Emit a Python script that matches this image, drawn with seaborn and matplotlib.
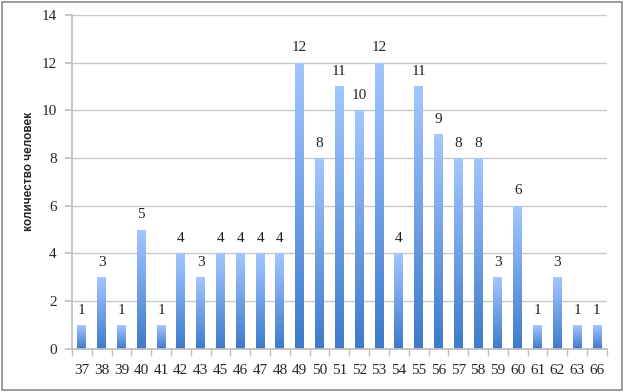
import numpy as np
import pandas as pd
import matplotlib
matplotlib.use("Agg")
import matplotlib.pyplot as plt
import seaborn as sns
from matplotlib.colors import LinearSegmentedColormap
from matplotlib.patches import Rectangle

# -----------------------------
# Data
# -----------------------------
ages = ["37", "38", "39", "40", "41", "42", "43", "45", "46", "47", "48", "49", "50",
        "51", "52", "53", "54", "55", "56", "57", "58", "59", "60", "61", "62", "63", "66"]
counts = [1, 3, 1, 5, 1, 4, 3, 4, 4, 4, 4, 12, 8, 11, 10, 12, 4, 11, 9, 8, 8, 3, 6, 1, 3, 1, 1]
y_ticks = [0, 2, 4, 6, 8, 10, 12, 14]

df = pd.DataFrame({"age": ages, "count": counts})

# -----------------------------
# Style
# -----------------------------
sns.set_theme(style="white")
plt.rcParams["font.family"] = ["Liberation Serif", "DejaVu Serif"]

fig = plt.figure(figsize=(6.25, 3.92), dpi=100)
ax = fig.add_axes([0.115, 0.110, 0.856, 0.852])

sns.barplot(data=df, x="age", y="count", color="#5b8fd8", width=0.45, ax=ax,
            order=ages, saturation=1)

# gradient fill for each bar (light top -> darker bottom)
cmap = LinearSegmentedColormap.from_list("bar", ["#3d7acb", "#a3c7ff"])
grad = np.linspace(0, 1, 256).reshape(-1, 1)
for patch in ax.patches:
    x0, y0 = patch.get_x(), patch.get_y()
    w, h = patch.get_width(), patch.get_height()
    im = ax.imshow(grad, extent=[x0, x0 + w, y0, y0 + h], origin="lower",
                   cmap=cmap, aspect="auto", zorder=2)
    im.set_clip_path(patch)
    patch.set_facecolor("none")
    patch.set_edgecolor("none")

for i, v in enumerate(counts):
    ax.text(i, v + 0.35, str(v), ha="center", va="bottom", fontsize=11, color="#222222")

ax.set_xlim(-0.5, len(ages) - 0.5)
ax.set_ylim(0, 14)
ax.set_yticks(y_ticks)
ax.yaxis.grid(True, color="#c8c8c8", linewidth=1)
ax.set_axisbelow(True)

for s in ["top", "right"]:
    ax.spines[s].set_visible(False)
ax.spines["left"].set_color("#bfbfbf")
ax.spines["bottom"].set_color("#bfbfbf")

# x ticks: labels at centers, tick marks between categories
ax.set_xticks(range(len(ages)))
ax.set_xticklabels(ages, fontsize=11)
ax.tick_params(axis="x", length=0, pad=11)
ax.set_xticks(np.arange(-0.5, len(ages), 1), minor=True)
ax.tick_params(axis="x", which="minor", length=5, color="#bfbfbf", bottom=True)
ax.tick_params(axis="y", length=5, color="#bfbfbf", left=True, labelsize=11, pad=6)

ax.set_xlabel("")
ax.set_ylabel("количество человек", fontsize=8.5, fontweight="bold",
              family=["Liberation Sans", "DejaVu Sans"], labelpad=5)
ax.yaxis.set_label_coords(-0.068, 0.53)

# outer frame
fig.patches.append(Rectangle((0.003, 0.005), 0.992, 0.99, transform=fig.transFigure,
                             fill=False, edgecolor="#8c8c8c", linewidth=1.2))

plt.savefig("out.png", dpi=100)
plt.close()
